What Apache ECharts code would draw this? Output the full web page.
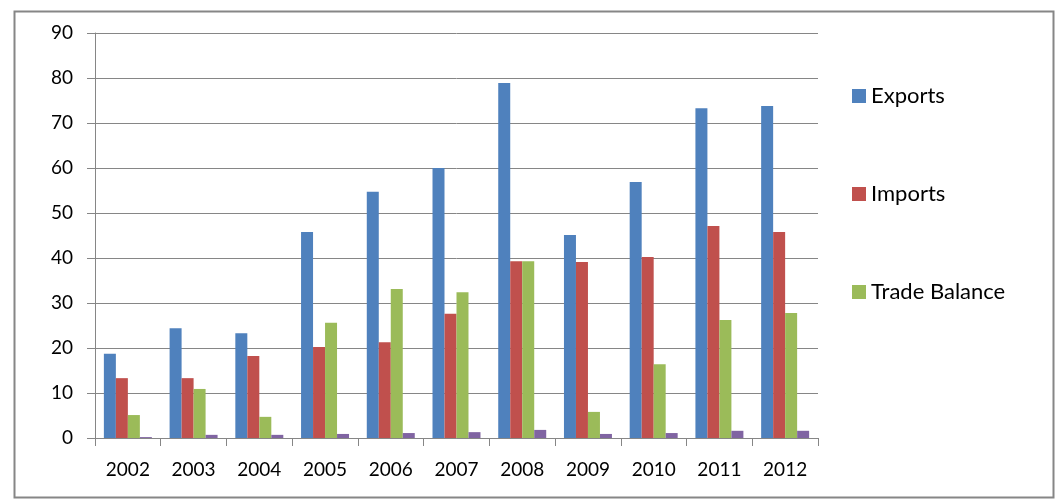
<!DOCTYPE html>
<html>
<head>
<meta charset="utf-8">
<script src="https://cdn.jsdelivr.net/npm/echarts@6/dist/echarts.min.js"></script>
<style>
html,body{margin:0;padding:0;background:#fff;}
#chart{width:1060px;height:504px;}
</style>
</head>
<body>
<div id="chart"></div>
<script>
const categories = ['2002','2003','2004','2005','2006','2007','2008','2009','2010','2011','2012'];
const exportsData = [18.7, 24.4, 23.3, 45.8, 54.7, 60.0, 78.9, 45.1, 56.9, 73.3, 73.8];
const importsData = [13.3, 13.3, 18.2, 20.2, 21.3, 27.6, 39.3, 39.1, 40.2, 47.1, 45.8];
const tradeBalanceData = [5.1, 10.9, 4.7, 25.6, 33.1, 32.4, 39.3, 5.8, 16.4, 26.2, 27.8];
const fourthData = [0.2, 0.7, 0.7, 0.9, 1.1, 1.3, 1.8, 0.9, 1.1, 1.6, 1.6];
const legendNames = ['Exports', 'Imports', 'Trade Balance'];
const yTicks = {min: 0, max: 90, interval: 10};

const FONT = 'Lato';
const chart = echarts.init(document.getElementById('chart'), null, {renderer: 'canvas'});
const gray = '#868686';
const barSeries = (name, data, color) => ({
  name, type: 'bar', data,
  itemStyle: {color},
  barGap: '0%', barCategoryGap: '27%',
  emphasis: {disabled: true}
});
chart.setOption({
  animation: false,
  backgroundColor: '#fff',
  textStyle: {fontFamily: FONT},
  graphic: [{
    type: 'rect', left: 12, top: 9,
    shape: {width: 1039, height: 486},
    style: {fill: 'none', stroke: gray, lineWidth: 2},
    silent: true
  }],
  grid: {left: 95, right: 242, top: 33, bottom: 66},
  legend: {
    data: legendNames,
    orient: 'vertical',
    left: 852, top: 85, padding: 0,
    itemWidth: 14, itemHeight: 14, itemGap: 76,
    icon: 'rect',
    textStyle: {fontFamily: FONT, fontSize: 22, color: '#000'},
    selectedMode: false
  },
  xAxis: {
    type: 'category', data: categories,
    axisLine: {lineStyle: {color: gray, width: 1}},
    axisTick: {show: true, length: 8, lineStyle: {color: gray}, alignWithLabel: false},
    axisLabel: {color: '#000', fontFamily: FONT, fontSize: 19, margin: 22}
  },
  yAxis: {
    type: 'value', min: yTicks.min, max: yTicks.max, interval: yTicks.interval,
    axisLine: {show: true, lineStyle: {color: gray, width: 1}},
    axisTick: {show: true, length: 8, lineStyle: {color: gray}},
    splitLine: {lineStyle: {color: gray, width: 1}},
    axisLabel: {color: '#000', fontFamily: FONT, fontSize: 19, margin: 22}
  },
  series: [
    barSeries('Exports', exportsData, '#4F81BD'),
    barSeries('Imports', importsData, '#C0504D'),
    barSeries('Trade Balance', tradeBalanceData, '#9BBB59'),
    barSeries('Series 4', fourthData, '#8064A2')
  ]
});
</script>
</body>
</html>
